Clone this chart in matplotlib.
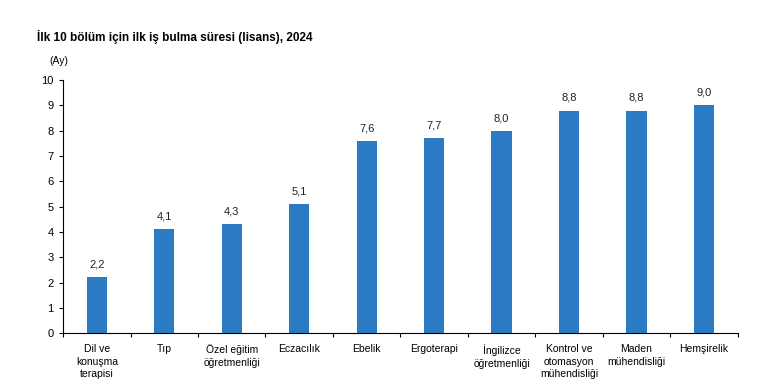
import numpy as np
import matplotlib.pyplot as plt

plt.rcParams['font.family'] = ['Liberation Sans', 'DejaVu Sans']

# ilk iş bulma süresi (ay)
bolumler = ["Dil ve\nkonuşma\nterapisi", "Tıp", "Özel eğitim\nöğretmenliği", "Eczacılık",
            "Ebelik", "Ergoterapi", "İngilizce\nöğretmenliği", "Kontrol ve\notomasyon\nmühendisliği",
            "Maden\nmühendisliği", "Hemşirelik"]
sure = [2.2, 4.1, 4.3, 5.1, 7.6, 7.7, 8.0, 8.8, 8.8, 9.0]
etiketler = ["2,2", "4,1", "4,3", "5,1", "7,6", "7,7", "8,0", "8,8", "8,8", "9,0"]

fig = plt.figure(figsize=(7.7, 3.91), dpi=100)
ax = fig.add_axes([0.082, 0.148, 0.876, 0.647])

x = np.arange(len(bolumler))
ax.bar(x, sure, width=0.3, color="#2b7bc4")
for xi, v, t in zip(x, sure, etiketler):
    ax.text(xi, v + 0.3, t, ha="center", va="bottom", fontsize=8, color="#222222")

ax.set_xlim(-0.5, len(bolumler) - 0.5)
ax.set_ylim(0, 10)
ax.set_yticks(range(0, 11))
ax.set_xticks(x)
ax.set_xticklabels(bolumler, fontsize=7.5, linespacing=1.3)
ax.set_xticks(np.arange(-0.5, len(bolumler)), minor=True)
ax.tick_params(axis="x", which="major", length=0, pad=8)
ax.tick_params(axis="x", which="minor", length=3, width=0.8, direction="out")
ax.tick_params(axis="y", length=3, width=0.8, labelsize=8, pad=4)
for s in ["top", "right"]:
    ax.spines[s].set_visible(False)
ax.spines["left"].set_linewidth(0.8)
ax.spines["bottom"].set_linewidth(0.8)

fig.text(0.048, 0.905, "İlk 10 bölüm için ilk iş bulma süresi (lisans), 2024",
         fontsize=8.5, fontweight="bold", ha="left", va="center")
fig.text(0.064, 0.845, "(Ay)", fontsize=7.5, ha="left", va="center")

fig.savefig("out.png", dpi=100)
